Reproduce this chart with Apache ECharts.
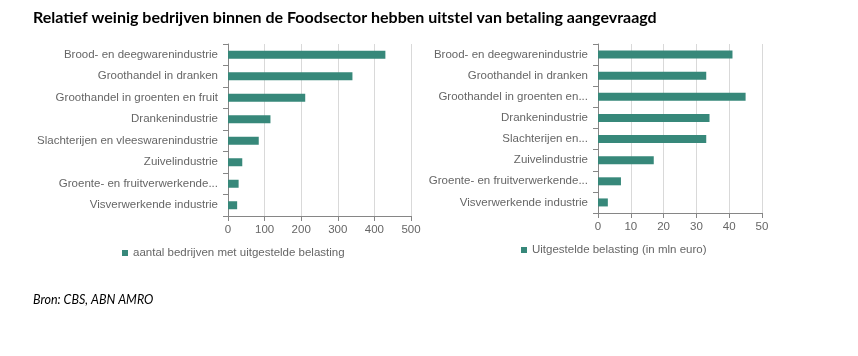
<!DOCTYPE html>
<html><head><meta charset="utf-8">
<script src="https://cdn.jsdelivr.net/npm/echarts@6/dist/echarts.min.js"></script>
<style>html,body{margin:0;padding:0;background:#fff}#c{width:858px;height:356px}</style>
</head><body><div id="c"></div>
<script>
const categories = ["Brood- en deegwarenindustrie","Groothandel in dranken","Groothandel in groenten en fruit","Drankenindustrie","Slachterijen en vleeswarenindustrie","Zuivelindustrie","Groente- en fruitverwerkende industrie","Visverwerkende industrie"];
const leftLabels = ["Brood- en deegwarenindustrie","Groothandel in dranken","Groothandel in groenten en fruit","Drankenindustrie","Slachterijen en vleeswarenindustrie","Zuivelindustrie","Groente- en fruitverwerkende...","Visverwerkende industrie"];
const rightLabels = ["Brood- en deegwarenindustrie","Groothandel in dranken","Groothandel in groenten en...","Drankenindustrie","Slachterijen en...","Zuivelindustrie","Groente- en fruitverwerkende...","Visverwerkende industrie"];
const aantalBedrijven = [430, 340, 211, 116, 84, 39, 29, 25];
const uitgesteldeBelasting = [41, 33, 45, 34, 33, 17, 7, 3];
const leftTicks = [0, 100, 200, 300, 400, 500];
const rightTicks = [0, 10, 20, 30, 40, 50];
const seriesNames = ["aantal bedrijven met uitgestelde belasting", "Uitgestelde belasting (in mln euro)"];

const barColor = '#37887a';
const txt = '#666666';
const font = 'Liberation Sans';
const chart = echarts.init(document.getElementById('c'), null, {renderer:'canvas'});
function catAxis(gi, labels){
  return {type:'category', gridIndex:gi, data:categories, inverse:true,
    axisLine:{show:true, lineStyle:{color:'#868686', width:1}},
    axisTick:{show:true, length:5, lineStyle:{color:'#868686'}},
    axisLabel:{color:txt, fontFamily:font, fontSize:11.5, margin:10,
      formatter:(v, i)=>labels[categories.indexOf(v)]}};
}
function valAxis(gi, ticks){
  return {type:'value', gridIndex:gi, min:ticks[0], max:ticks[ticks.length-1], interval:ticks[1]-ticks[0],
    axisLine:{show:true, lineStyle:{color:'#868686'}},
    axisTick:{show:true, length:5, lineStyle:{color:'#868686'}},
    splitLine:{show:true, lineStyle:{color:'#d9d9d9'}},
    axisLabel:{color:txt, fontFamily:font, fontSize:11.5, margin:8}};
}
chart.setOption({
  animation:false,
  title:[
    {text:'Relatief weinig bedrijven binnen de Foodsector hebben uitstel van betaling aangevraagd', left:33, top:10, padding:0,
     textStyle:{fontFamily:'Lato', fontWeight:'bold', fontSize:16, color:'#000'}},
    {text:'Bron: CBS, ABN AMRO', left:33, top:293, padding:0, textStyle:{fontFamily:'Lato', fontStyle:'italic', fontWeight:'normal', fontSize:12.5, color:'#000'}}
  ],
  grid:[{left:228, right:447, top:44, bottom:140, containLabel:false},
        {left:598, right:96, top:44, bottom:143, containLabel:false}],
  xAxis:[valAxis(0, leftTicks), valAxis(1, rightTicks)],
  yAxis:[catAxis(0, leftLabels), catAxis(1, rightLabels)],
  legend:[
    {data:[seriesNames[0]], left:117, top:242, icon:'rect', itemWidth:6, itemHeight:6, itemGap:4,
     textStyle:{color:txt, fontFamily:font, fontSize:11.5}},
    {data:[seriesNames[1]], left:516, top:239, icon:'rect', itemWidth:6, itemHeight:6, itemGap:4,
     textStyle:{color:txt, fontFamily:font, fontSize:11.5}}
  ],
  series:[
    {name:seriesNames[0], type:'bar', xAxisIndex:0, yAxisIndex:0, data:aantalBedrijven, barWidth:8, itemStyle:{color:barColor}},
    {name:seriesNames[1], type:'bar', xAxisIndex:1, yAxisIndex:1, data:uitgesteldeBelasting, barWidth:8, itemStyle:{color:barColor}}
  ]
});
</script></body></html>
